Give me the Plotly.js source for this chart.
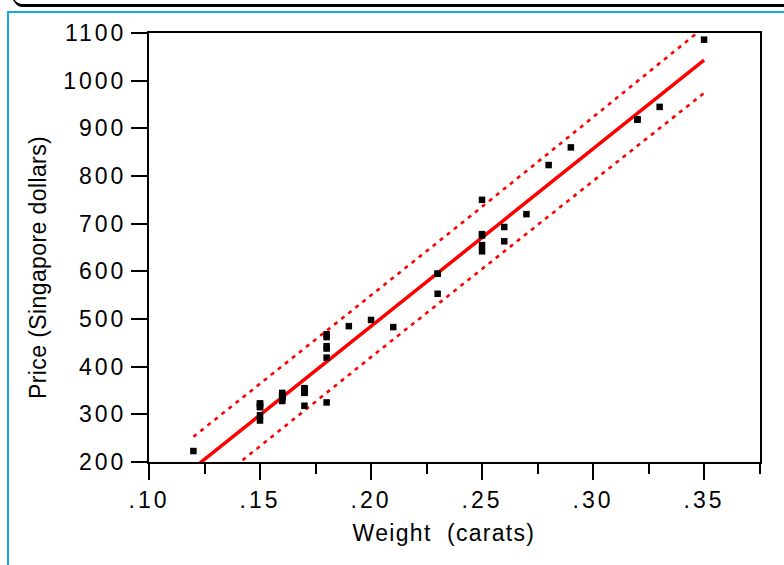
<!DOCTYPE html>
<html>
<head>
<meta charset="utf-8">
<script src="https://cdn.plot.ly/plotly-3.0.1.min.js"></script>
<style>
  html, body { margin: 0; padding: 0; background: #ffffff; overflow: hidden; }
  #chart { position: absolute; left: 0; top: 0; width: 784px; height: 565px; }
  #topbar { position: absolute; left: 8px; top: -28px; width: 800px; height: 32px;
            border-bottom: 3px solid #000; border-bottom-left-radius: 14px 30px; z-index: 5; }
  #frame { position: absolute; left: 7px; top: 11px; width: 800px; height: 600px;
           border-top: 2px solid #12A8E2; border-left: 2px solid #12A8E2; z-index: 5; }
  .xtick text, .ytick text { letter-spacing: 3px; }
  g.annotation[data-index="0"] text { letter-spacing: 1.3px; }
  g.annotation[data-index="1"] text { letter-spacing: 0.4px; }
</style>
</head>
<body>
<div id="chart"></div>
<div id="topbar"></div>
<div id="frame"></div>
<script>
// Diamond rings: weight (carats) and price (Singapore dollars)
const weight = [0.17,0.16,0.17,0.18,0.25,0.16,0.15,0.19,0.21,0.15,
                0.18,0.28,0.16,0.20,0.23,0.29,0.12,0.26,0.25,0.27,
                0.18,0.16,0.17,0.16,0.17,0.18,0.17,0.18,0.17,0.15,
                0.17,0.32,0.32,0.15,0.16,0.16,0.23,0.23,0.17,0.33,
                0.25,0.35,0.18,0.25,0.25,0.15,0.26,0.15];
const price = [355,328,350,325,642,342,322,485,483,323,
               462,823,336,498,595,860,223,663,750,720,
               468,345,352,332,353,438,318,419,346,315,
               350,918,919,298,339,338,595,553,345,945,
               655,1086,443,678,675,287,693,316];

// Fitted line (endpoints)
const fitX = [0.12, 0.35];
const fitY = [187, 1043];

// Prediction band
const bandX = [0.12, 0.16, 0.20, 0.24, 0.28, 0.35];
const bandUpper = [253, 401, 549, 698, 848, 1112];
const bandLower = [121, 271, 420, 568, 716, 974];

// Tick labels
const xTickVals = [0.10, 0.15, 0.20, 0.25, 0.30, 0.35];
const xTickText = ['.10', '.15', '.20', '.25', '.30', '.35'];
const xMinorVals = [0.125, 0.175, 0.225, 0.275, 0.325, 0.375];
const yTickVals = [200, 300, 400, 500, 600, 700, 800, 900, 1000, 1100];
const yTickText = ['200', '300', '400', '500', '600', '700', '800', '900', '1000', '1100'];

const xTitle = 'Weight \u00a0(carats)';
const yTitle = 'Price (Singapore dollars)';

const FONT = '"Liberation Sans", Arial, sans-serif';

const traces = [
  { x: bandX, y: bandUpper, mode: 'lines', type: 'scatter',
    line: { color: '#ff0000', width: 2.6, dash: '4px,5px' }, hoverinfo: 'skip' },
  { x: bandX, y: bandLower, mode: 'lines', type: 'scatter',
    line: { color: '#ff0000', width: 2.6, dash: '4px,5px' }, hoverinfo: 'skip' },
  { x: fitX, y: fitY, mode: 'lines', type: 'scatter',
    line: { color: '#ff0000', width: 3.5 }, hoverinfo: 'skip' },
  { x: weight, y: price, mode: 'markers', type: 'scatter',
    marker: { symbol: 'square', size: 6.5, color: '#000000', line: { width: 0 } } }
];

const axisCommon = {
  showgrid: false, zeroline: false,
  showline: true, linewidth: 2, linecolor: '#000', mirror: true,
  ticks: 'outside', ticklen: 16, tickwidth: 2, tickcolor: '#000',
  tickfont: { family: FONT, size: 23, color: '#000' },
  tickmode: 'array'
};

const layout = {
  width: 784, height: 565,
  margin: { l: 149, r: 24, t: 33, b: 103, pad: 0 },
  paper_bgcolor: '#ffffff', plot_bgcolor: '#ffffff',
  showlegend: false,
  font: { family: FONT, color: '#000' },
  xaxis: Object.assign({}, axisCommon, {
    range: [0.10, 0.3752],
    tickvals: xTickVals, ticktext: xTickText,
    minor: { tickmode: 'array', tickvals: xMinorVals, ticks: 'outside', ticklen: 10, tickwidth: 2, tickcolor: '#000' }
  }),
  yaxis: Object.assign({}, axisCommon, {
    range: [200, 1100],
    tickvals: yTickVals, ticktext: yTickText
  }),
  annotations: [
    { text: xTitle, xref: 'paper', yref: 'paper', x: 0.4828, y: -0.165,
      xanchor: 'center', yanchor: 'middle', showarrow: false,
      font: { family: FONT, size: 23, color: '#000' } },
    { text: yTitle, xref: 'paper', yref: 'paper', x: -0.1817, y: 0.4545,
      xanchor: 'center', yanchor: 'middle', showarrow: false, textangle: -90,
      font: { family: FONT, size: 23, color: '#000' } }
  ]
};

Plotly.newPlot('chart', traces, layout, { displayModeBar: false, staticPlot: true });
</script>
</body>
</html>
